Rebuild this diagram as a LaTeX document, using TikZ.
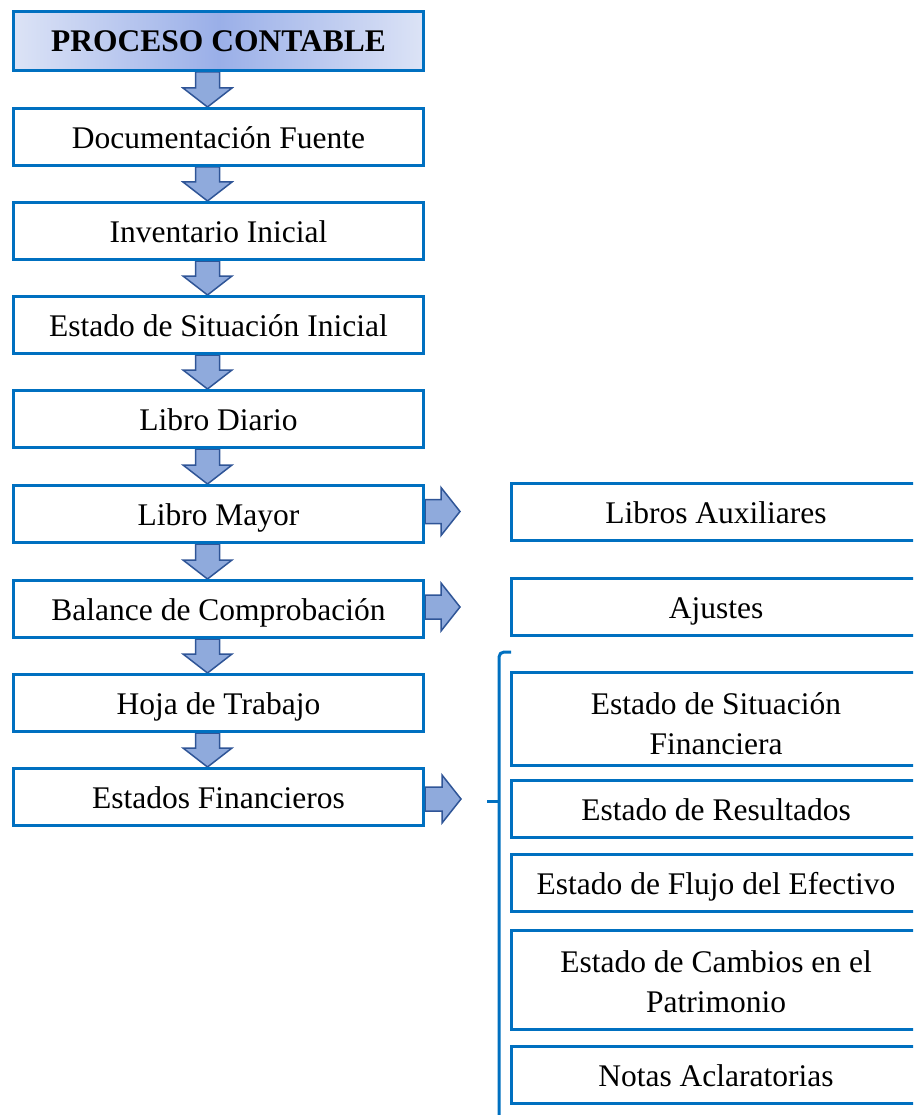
\documentclass[tikz,border=0pt]{standalone}
\usepackage{fontspec}
\setmainfont{Liberation Serif}
\usetikzlibrary{calc,backgrounds}
\definecolor{boxblue}{HTML}{0070C0}
\definecolor{arrfill}{HTML}{8FAADC}
\definecolor{arrdraw}{HTML}{2F5597}
\definecolor{gedge}{HTML}{DCE3F6}
\definecolor{gmid}{HTML}{9AAFE8}
\tikzset{
  stepbox/.style={draw=boxblue, line width=3pt, fill=white, inner sep=0pt,
    minimum width=410pt, minimum height=57pt,
    text height=23pt, text depth=0pt,
    font=\fontsize{31.5}{40}\selectfont},
  rbox/.style={stepbox, minimum width=409pt},
  blockarrow/.style={draw=arrdraw, fill=arrfill, line width=1.5pt, line join=miter},
  bracketline/.style={draw=boxblue, line width=3pt},
}
\newcommand{\twolines}[2]{\begin{tabular}{@{}c@{}}#1\\#2\end{tabular}}
\newcommand{\vblock}[2]{%
  \draw[blockarrow] let \p1=($(#1.south)+(-11,0)$), \p2=($(#2.north)+(-11,0)$) in
    ({\x1-12pt},\y1) -- ({\x1-12pt},{\y2+19pt}) -- ({\x1-24.5pt},{\y2+19pt}) --
    (\x1,\y2) -- ({\x1+24.5pt},{\y2+19pt}) -- ({\x1+12pt},{\y2+19pt}) --
    ({\x1+12pt},\y1) -- cycle;}
\newcommand{\hblock}[2]{%
  \draw[blockarrow] let \p1=(#1.east), \p2=(#2) in
    (\x1,{\y2+12pt}) -- ({\x2-19pt},{\y2+12pt}) -- ({\x2-19pt},{\y2+24pt}) --
    (\x2,\y2) -- ({\x2-19pt},{\y2-24pt}) -- ({\x2-19pt},{\y2-12pt}) --
    (\x1,{\y2-12pt}) -- cycle;}
\begin{document}
\begin{tikzpicture}[x=1pt,y=-1pt]
\useasboundingbox (0,0) rectangle (913,1115);
\clip (0,0) rectangle (913,1115);
% left column
\node[stepbox, minimum height=59pt, left color=gedge, right color=gedge, middle color=gmid,
  text height=22pt, font=\fontsize{31.5}{40}\selectfont\bfseries] (pc) at (218.5,41) {PROCESO CONTABLE};
\node[stepbox] (df) at (218.5,137) {Documentación Fuente};
\node[stepbox] (ii) at (218.5,231) {Inventario Inicial};
\node[stepbox] (esi) at (218.5,325) {Estado de Situación Inicial};
\node[stepbox] (ld) at (218.5,419) {Libro Diario};
\node[stepbox] (lm) at (218.5,514) {Libro Mayor};
\node[stepbox] (bc) at (218.5,609) {Balance de Comprobación};
\node[stepbox] (ht) at (218.5,703) {Hoja de Trabajo};
\node[stepbox] (ef) at (218.5,797) {Estados Financieros};
% right column
\node[rbox] (la) at (716,511.5) {Libros Auxiliares};
\node[rbox] (aj) at (716,607) {Ajustes};
\node[rbox, minimum height=93pt, text height=40pt, text depth=12pt] (esf) at (716,719)
  {\twolines{Estado de Situación}{Financiera}};
\node[rbox] (er) at (716,809) {Estado de Resultados};
\node[rbox] (efe) at (716,883) {Estado de Flujo del Efectivo};
\node[rbox, minimum height=99pt, text height=36pt, text depth=15pt] (ecp) at (716,980)
  {\twolines{Estado de Cambios en el}{Patrimonio}};
\node[rbox] (na) at (716,1075) {Notas Aclaratorias};
% free ends
\coordinate (tlm) at (460,511.5);
\coordinate (tbc) at (460,607);
\coordinate (tef) at (461,799);
\coordinate (brk) at (487,801);
\coordinate (brtop) at (511,652);
\coordinate (brbot) at (499,1125);
\begin{scope}[on background layer]
\vblock{pc}{df}
\vblock{df}{ii}
\vblock{ii}{esi}
\vblock{esi}{ld}
\vblock{ld}{lm}
\vblock{lm}{bc}
\vblock{bc}{ht}
\vblock{ht}{ef}
\hblock{lm}{tlm}
\hblock{bc}{tbc}
\hblock{ef}{tef}
\end{scope}
% bracket
\draw[bracketline, rounded corners=5pt] (brtop) -- (499,652) -- (brbot);
\draw[bracketline] (brk) -- (499,801);
\end{tikzpicture}
\end{document}
